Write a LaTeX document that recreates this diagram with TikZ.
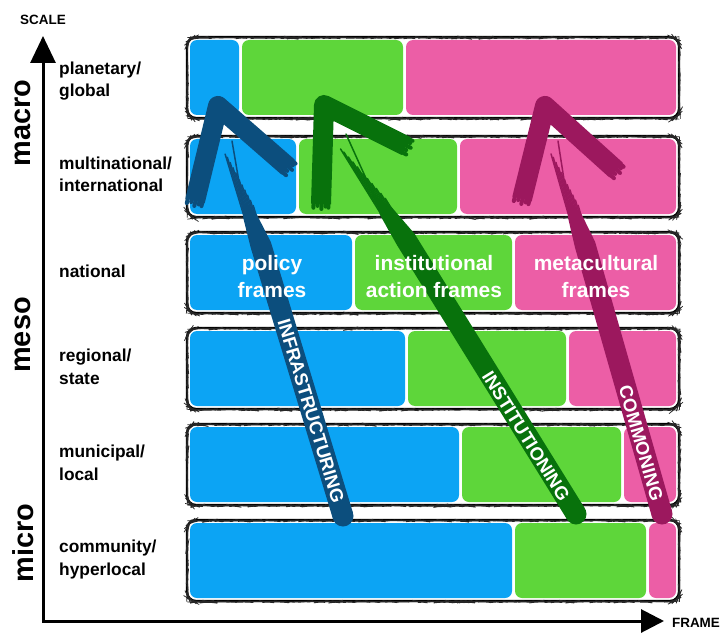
\documentclass[tikz,border=0pt]{standalone}
\usepackage{fontspec}
\setmainfont{Liberation Sans}
\usetikzlibrary{calc,arrows.meta,decorations.pathmorphing}

\definecolor{segblue}{RGB}{12,164,244}
\definecolor{seggreen}{RGB}{94,214,58}
\definecolor{segpink}{RGB}{236,94,166}
\definecolor{brushblue}{RGB}{12,78,125}
\definecolor{brushgreen}{RGB}{8,114,12}
\definecolor{brushmag}{RGB}{156,24,94}

% brush-stroke shaft from its rounded foot up to its frayed tip
\newcommand\brushshaft[3]{%
  \fill[#1] (#2) circle (10.5bp);
  \fill[#1] ($(#2)!10.5pt!90:(#3)$)
    -- ($(#2)!0.74!(#3)!10.5pt!90:(#3)$)
    -- ($(#2)!0.82!(#3)!9pt!90:(#3)$)
    -- ($(#2)!0.86!(#3)!3pt!90:(#3)$)
    -- ($(#2)!0.82!(#3)!-5pt!90:(#3)$)
    -- ($(#2)!0.74!(#3)!-10.5pt!90:(#3)$)
    -- ($(#2)!-10.5pt!90:(#3)$) -- cycle;
  \foreach \off/\len in {9/1.0,7.8/0.995,6.6/0.985,5.4/0.97,4.2/0.955,3/0.94,1.8/0.92,0.6/0.905,-0.6/0.89,-1.8/0.875,-3/0.86,-4.2/0.845}
    \draw[#1, line width=1.5bp, line cap=round]
      ($(#2)!0.78!(#3)!\off pt!90:(#3)$) -- ($(#2)!\len!(#3)!\off pt!90:(#3)$);
}

% one ragged bristle tuft past the end #2 of a stroke heading to #3
\newcommand\bristles[3]{%
  \foreach \off/\ext in {7.5/4,3.5/2,-0.5/5,-4.5/2.5,-7.5/3.5}
    \draw[#1, line width=4bp, line cap=round]
      ($(#2)!\off pt!90:(#3)$) -- ($(#2)!-\ext pt!(#3)!\off pt!90:(#3)$);
}

% brush-stroke chevron: left end, apex, right end
\newcommand\brushhead[4]{%
  \draw[#1, line width=20bp, line join=round] (#2) -- (#3) -- (#4);
  \bristles{#1}{#2}{#3}
  \bristles{#1}{#4}{#3}
}

\begin{document}
\begin{tikzpicture}[x=1bp, y=-1bp,
  rowframe/.style={draw=black, line width=2.3bp, rounded corners=9bp},
  rowsketch/.style={draw=black!85, line width=0.7bp, rounded corners=9bp,
    decorate, decoration={random steps, segment length=3bp, amplitude=0.35bp}},
  seg/.style={rounded corners=7bp},
  rowlabel/.style={anchor=base west, align=left, inner sep=0,
    font=\fontsize{17.4}{22.5}\selectfont\bfseries},
  levellabel/.style={rotate=90, inner sep=0, font=\fontsize{29}{30}\selectfont\bfseries},
  axislabel/.style={inner sep=0, font=\fontsize{13.5}{14}\selectfont\bfseries},
  framelabel/.style={anchor=base, align=center, inner sep=0, text=white,
    font=\fontsize{21}{27}\selectfont\bfseries},
  shaftlabel/.style={inner sep=0, text=white, font=\fontsize{18.5}{19}\selectfont\bfseries},
]
\pgfmathsetseed{11}
\useasboundingbox (0,0) rectangle (721,633);

% axes
\coordinate (origin) at (43,621);
\coordinate (scaleEnd) at (43,36);
\coordinate (frameEnd) at (664,621);
\draw[line width=3bp, line join=miter,
  {Triangle[length=27bp,width=25bp]}-{Triangle[length=23bp,width=23bp]}]
  (scaleEnd) -- (origin) -- (frameEnd);
\node[axislabel] (scaleLbl) at (43,20) {SCALE};
\node[axislabel] (frameLbl) at (696,623) {FRAME};

% scale levels
\node[levellabel] (macroLbl) at (23,123) {macro};
\node[levellabel] (mesoLbl) at (23,335) {meso};
\node[levellabel] (microLbl) at (23,543) {micro};

% row names (anchored on the baseline of their last line)
\node[rowlabel] (planetaryLbl) at (59,97) {planetary/\\global};
\node[rowlabel] (multiLbl) at (59,192) {multinational/\\international};
\node[rowlabel] (nationalLbl) at (59,277) {national};
\node[rowlabel] (regionalLbl) at (59,384) {regional/\\state};
\node[rowlabel] (municipalLbl) at (59,480) {municipal/\\local};
\node[rowlabel] (communityLbl) at (59,575) {community/\\hyperlocal};

% rows: top edge / end of blue part / end of green part
\foreach \t/\b/\g in {37/239/403, 136/296/457, 232/352/512, 328/405/566, 424/459/621, 520/512/646} {
  \fill[segblue, seg] (190,\t+3) rectangle (\b,\t+78);
  \fill[seggreen, seg] (\b+3,\t+3) rectangle (\g,\t+78);
  \fill[segpink, seg] (\g+3,\t+3) rectangle (676,\t+78);
  \draw[rowframe] (187,\t) rectangle (679,\t+81);
  \draw[rowsketch] (187.4,\t+0.7) rectangle (679.4,\t+81.7);
}

% brush arrows
\coordinate (infraFoot) at (343,516);
\coordinate (infraTip) at (232,150);
\coordinate (infraL) at (195,201);
\coordinate (infraApex) at (218,106);
\coordinate (infraR) at (288,167);

\coordinate (instFoot) at (576,514);
\coordinate (instTip) at (346,143);
\coordinate (instL) at (321,204);
\coordinate (instApex) at (324,105);
\coordinate (instR) at (406,146);

\coordinate (commFoot) at (662,514);
\coordinate (commTip) at (558,150);
\coordinate (commL) at (522,199);
\coordinate (commApex) at (545,106);
\coordinate (commR) at (616,170);

\brushshaft{brushblue}{infraFoot}{infraTip}
\brushhead{brushblue}{infraL}{infraApex}{infraR}
\brushshaft{brushgreen}{instFoot}{instTip}
\brushhead{brushgreen}{instL}{instApex}{instR}
\brushshaft{brushmag}{commFoot}{commTip}
\brushhead{brushmag}{commL}{commApex}{commR}

% frame labels
\node[framelabel] (policyLbl) at (272,297) {policy\\frames};
\node[framelabel] (institutionalLbl) at (434,297) {institutional\\action frames};
\node[framelabel] (metaculturalLbl) at (596,297) {metacultural\\frames};

% process labels along the shafts
\node[shaftlabel, rotate=-73.2] (infraLbl) at (311,411) {INFRASTRUCTURING};
\node[shaftlabel, rotate=-58.1] (instLbl) at (526,436) {INSTITUTIONING};
\node[shaftlabel, rotate=-74] (commLbl) at (641,443) {COMMONING};
\end{tikzpicture}
\end{document}
